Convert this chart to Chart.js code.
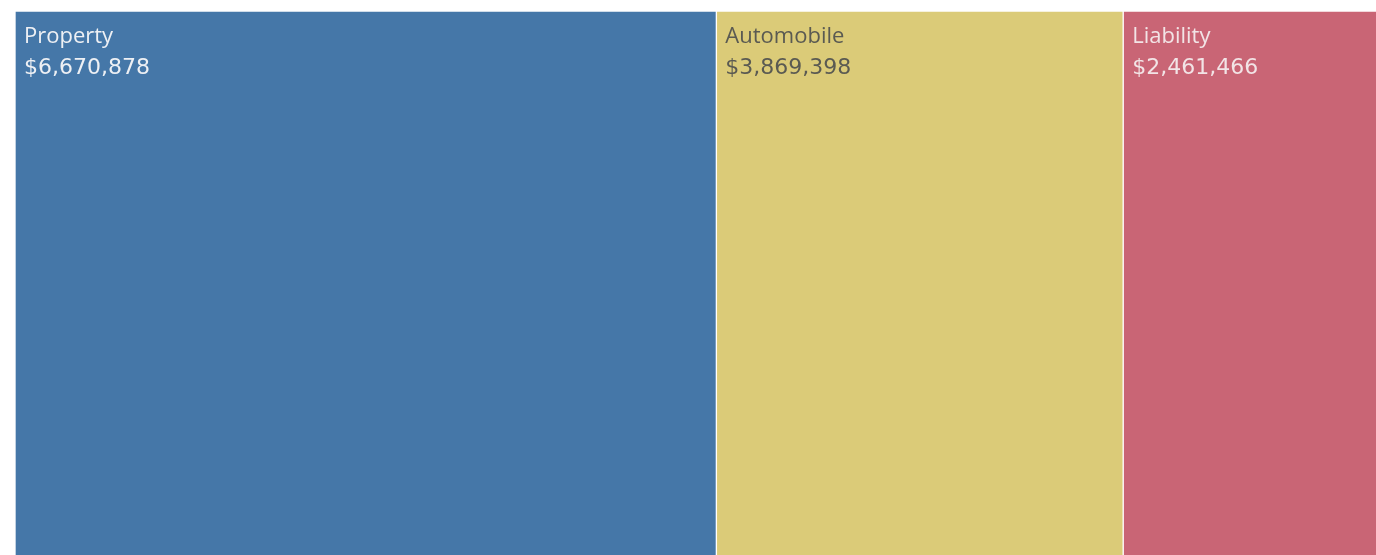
<!DOCTYPE html>
<html>
<head>
<meta charset="utf-8">
<script src="https://cdn.jsdelivr.net/npm/chart.js@4"></script>
<style>
  html, body { margin: 0; padding: 0; background: #fff; overflow: hidden; }
  #wrap { width: 1382px; height: 580px; position: relative; }
</style>
</head>
<body>
<div id="wrap"><canvas id="treeChart"></canvas></div>
<script>
// Claim amounts by line of business
const categories = ['Property', 'Automobile', 'Liability'];
const amounts = [6670878, 3869398, 2461466];
const fillColors = ['#4577a8', '#dbcb78', '#c96575'];
const textColors = ['#eef0f4', '#5a5a52', '#f2e4e6'];

const total = amounts.reduce((a, b) => a + b, 0);

function formatCurrency(amount) {
    return '$' + amount.toLocaleString('en-US');
}

// draw the name and value in the top-left corner of each block
const blockLabels = {
    id: 'blockLabels',
    afterDatasetsDraw(chart) {
        const ctx = chart.ctx;
        ctx.save();
        ctx.textBaseline = 'alphabetic';
        ctx.textAlign = 'left';
        chart.data.datasets.forEach((ds, i) => {
            const bar = chart.getDatasetMeta(i).data[0];
            const left = Math.min(bar.x, bar.base);
            const top = bar.y - bar.height / 2;
            ctx.fillStyle = textColors[i];
            ctx.font = '22px "Open Sans", sans-serif';
            ctx.fillText(categories[i], left + 9, top + 32);
            ctx.font = '22px "DejaVu Sans", sans-serif';
            ctx.fillText(formatCurrency(amounts[i]), left + 9, top + 63);
        });
        ctx.restore();
    }
};

new Chart(document.getElementById('treeChart'), {
    type: 'bar',
    data: {
        labels: ['Total'],
        datasets: categories.map((name, i) => ({
            label: name,
            data: [amounts[i]],
            backgroundColor: fillColors[i],
            borderColor: 'rgba(255,255,255,0.55)',
            borderWidth: 1,
            borderSkipped: false,
            barPercentage: 1,
            categoryPercentage: 1
        }))
    },
    options: {
        indexAxis: 'y',
        responsive: true,
        maintainAspectRatio: false,
        animation: false,
        layout: { padding: { left: 15, top: 11, right: 0, bottom: 0 } },
        plugins: {
            legend: { display: false },
            tooltip: { enabled: false }
        },
        scales: {
            x: { stacked: true, display: false, min: 0, max: total },
            y: { stacked: true, display: false }
        }
    },
    plugins: [blockLabels]
});
</script>
</body>
</html>
